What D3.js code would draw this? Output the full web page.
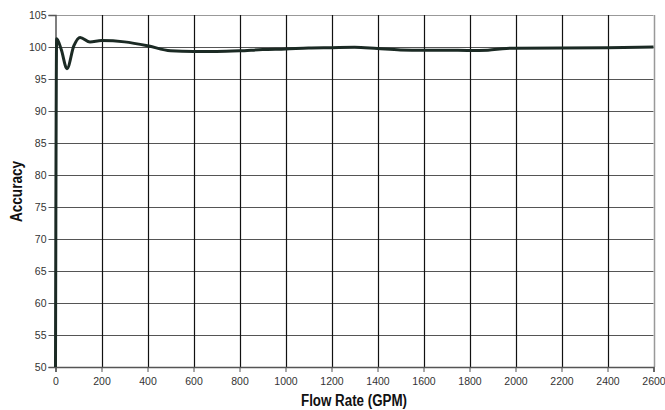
<!DOCTYPE html>
<html><head><meta charset="utf-8">
<script src="https://cdn.jsdelivr.net/npm/d3@7/dist/d3.min.js"></script>
<style>body{margin:0;background:#fff}svg{display:block}
svg text{font-family:'Liberation Sans',Arial,sans-serif}</style>
</head><body>
<svg id="c" width="665" height="410"></svg>
<script>
const flowRate = [0, 5, 25, 50, 80, 107, 150, 200, 300, 400, 500, 600, 700, 800, 900, 1000, 1100, 1200, 1300, 1400, 1500, 1600, 1700, 1800, 1880, 1960, 2000, 2200, 2400, 2600];
const accuracy = [50, 101.3, 99.6, 96.6, 100.2, 101.5, 100.8, 101.0, 100.8, 100.2, 99.4, 99.3, 99.3, 99.4, 99.6, 99.7, 99.85, 99.9, 99.95, 99.75, 99.55, 99.5, 99.5, 99.45, 99.5, 99.78, 99.8, 99.85, 99.9, 100.0];
const xTicks = [0,200,400,600,800,1000,1200,1400,1600,1800,2000,2200,2400,2600];
const yTicks = [50,55,60,65,70,75,80,85,90,95,100,105];

const svg = d3.select("#c");
const L = 55.5, R = 653.5, T = 15, B = 367;
const x = d3.scaleLinear().domain([0,2600]).range([L,R]);
const y = d3.scaleLinear().domain([50,105]).range([B,T]);

svg.append("g").selectAll("line").data(yTicks).join("line")
  .attr("x1",L).attr("x2",R).attr("y1",d=>Math.round(y(d))+0.5).attr("y2",d=>Math.round(y(d))+0.5)
  .attr("stroke",d=>d===105?"#999":"#555").attr("stroke-width",1);
svg.append("g").selectAll("line").data(xTicks.slice(1)).join("line")
  .attr("x1",d=>Math.round(x(d))+0.5).attr("x2",d=>Math.round(x(d))+0.5).attr("y1",T).attr("y2",B)
  .attr("stroke",d=>d===2600?"#999":"#111").attr("stroke-width",d=>d===2600?1.5:1.2);

const ya = svg.append("g").attr("transform",`translate(${L},0)`)
  .call(d3.axisLeft(y).tickValues(yTicks).tickSize(7).tickPadding(2).tickFormat(d3.format("d")));
const xa = svg.append("g").attr("transform",`translate(0,${B})`)
  .call(d3.axisBottom(x).tickValues(xTicks).tickSize(5).tickPadding(6).tickFormat(d3.format("d")));
[ya,xa].forEach(a=>{
  a.attr("font-family",null).attr("font-size",null);
  a.select(".domain").attr("stroke","#555").attr("stroke-width",1.5);
  a.selectAll(".tick line").attr("stroke","#555");
  a.selectAll("text").attr("fill","#333").style("font-family","'Liberation Sans',Arial,sans-serif").style("font-size","10.5px");
});

const line = d3.line().x((d,i)=>x(flowRate[i])).y(d=>y(d)).curve(d3.curveMonotoneX);
svg.append("path").attr("d",line(accuracy)).attr("fill","none")
  .attr("stroke","#1b2a24").attr("stroke-width",3).attr("stroke-linejoin","round");

svg.append("text").attr("x",301).attr("y",406)
  .attr("textLength",106).attr("lengthAdjust","spacingAndGlyphs")
  .style("font-weight","bold").style("font-size","16px")
  .attr("fill","#111").text("Flow Rate (GPM)");
svg.append("text").attr("transform","translate(22,222) rotate(-90)")
  .attr("textLength",61).attr("lengthAdjust","spacingAndGlyphs")
  .style("font-weight","bold").style("font-size","16px")
  .attr("fill","#111").text("Accuracy");
</script>
</body></html>
